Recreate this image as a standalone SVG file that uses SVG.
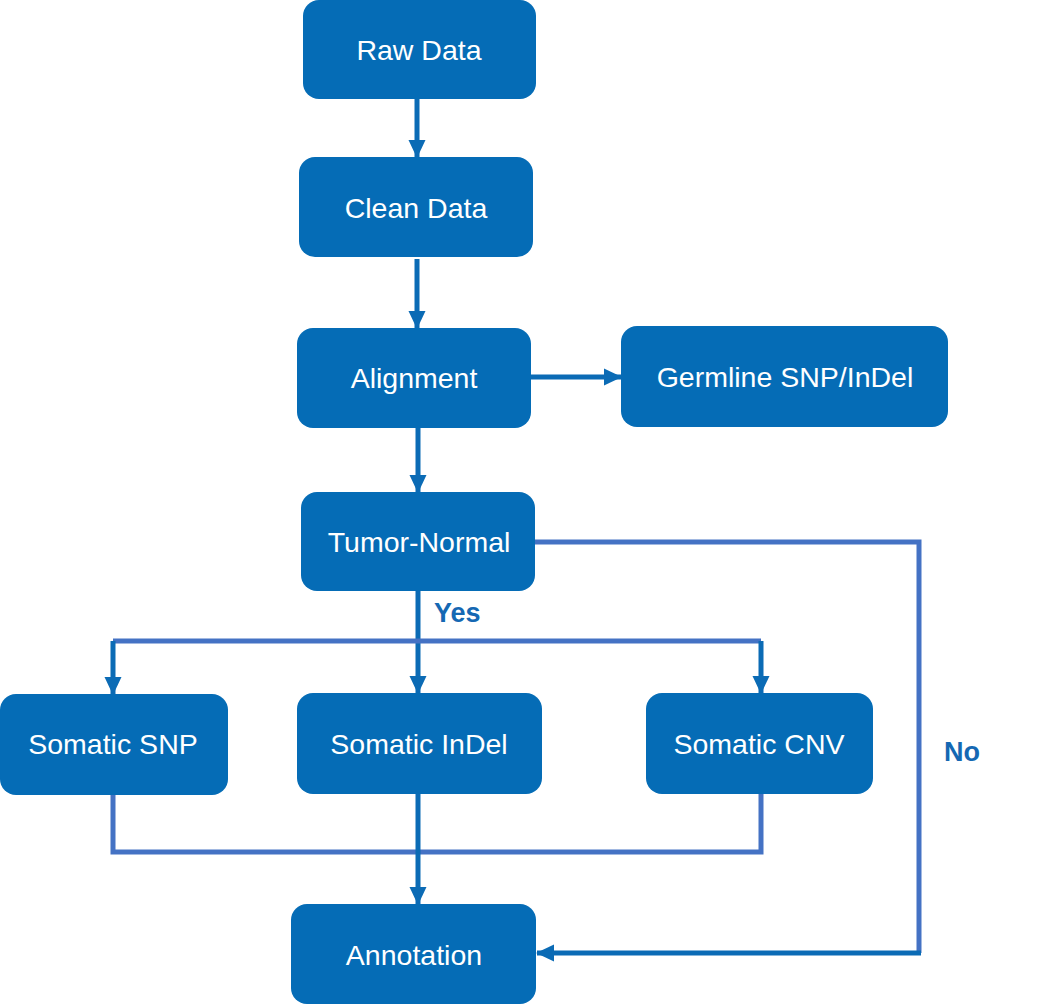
<svg xmlns="http://www.w3.org/2000/svg" width="1048" height="1004" viewBox="0 0 1048 1004">
<style>
.node rect{fill:#056CB6}
.node text{fill:#fff;font-family:"Liberation Sans",Arial,sans-serif;font-size:28.5px;text-anchor:middle}
.dark{stroke:#0B6BB5;stroke-width:5;fill:none}
.light{stroke:#4472C4;stroke-width:5;fill:none}
.lbl{fill:#1568B3;font-family:"Liberation Sans",Arial,sans-serif;font-size:27px;font-weight:bold}
</style>
<defs>
<marker id="ah" markerUnits="userSpaceOnUse" markerWidth="18" markerHeight="19" viewBox="0 0 19 18" refX="18" refY="9" orient="auto">
<path d="M0,0 L19,9 L0,18 Z" fill="#0B6BB5"/>
</marker>
</defs>
<g id="connectors">
<line class="dark" x1="417" y1="99" x2="417" y2="157" marker-end="url(#ah)"/>
<line class="dark" x1="417" y1="259" x2="417" y2="328" marker-end="url(#ah)"/>
<line class="dark" x1="531" y1="377" x2="621" y2="377" marker-end="url(#ah)"/>
<line class="dark" x1="418" y1="428" x2="418" y2="492" marker-end="url(#ah)"/>
<line class="dark" x1="418" y1="591" x2="418" y2="693" marker-end="url(#ah)"/>
<polyline class="light" points="113,641 761,641"/>
<line class="dark" x1="113" y1="641" x2="113" y2="694" marker-end="url(#ah)"/>
<line class="dark" x1="761" y1="641" x2="761" y2="693" marker-end="url(#ah)"/>
<polyline class="light" points="113,795 113,852 761,852 761,794"/>
<line class="dark" x1="418" y1="794" x2="418" y2="904" marker-end="url(#ah)"/>
<polyline class="light" points="535,542 919,542 919,953"/>
<line class="dark" x1="921" y1="953" x2="537" y2="953" marker-end="url(#ah)"/>
<text class="lbl" x="434" y="622">Yes</text>
<text class="lbl" x="944" y="761">No</text>
</g>
<g id="raw" class="node"><rect x="303" y="0" width="233" height="99" rx="16"/><text x="419" y="60">Raw Data</text></g>
<g id="clean" class="node"><rect x="299" y="157" width="234" height="100" rx="16"/><text x="416" y="218">Clean Data</text></g>
<g id="align" class="node"><rect x="297" y="328" width="234" height="100" rx="16"/><text x="414" y="388">Alignment</text></g>
<g id="germline" class="node"><rect x="621" y="326" width="327" height="101" rx="16"/><text x="785" y="387">Germline SNP/InDel</text></g>
<g id="tumor" class="node"><rect x="301" y="492" width="234" height="99" rx="16"/><text x="419" y="552">Tumor-Normal</text></g>
<g id="snp" class="node"><rect x="0" y="694" width="228" height="101" rx="16"/><text x="113" y="754">Somatic SNP</text></g>
<g id="indel" class="node"><rect x="297" y="693" width="245" height="101" rx="16"/><text x="419" y="754">Somatic InDel</text></g>
<g id="cnv" class="node"><rect x="646" y="693" width="227" height="101" rx="16"/><text x="759" y="754">Somatic CNV</text></g>
<g id="annot" class="node"><rect x="291" y="904" width="245" height="100" rx="16"/><text x="414" y="965">Annotation</text></g>
</svg>
